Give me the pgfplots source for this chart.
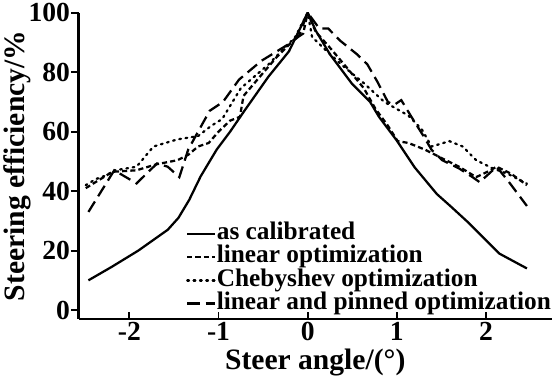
\documentclass[border=0pt]{standalone}
\usepackage{fontspec}
\setmainfont{Liberation Serif}
\usepackage{pgfplots}
\pgfplotsset{compat=1.18}
\begin{document}
\begin{tikzpicture}
\begin{axis}[
  scale only axis,
  width=462bp, height=299bp,
  xmin=-2.57, xmax=2.74, ymin=-3, ymax=100,
  axis lines=left,
  axis line style={line width=2.2bp, -},
  xtick={-2,-1,0,1,2},
  xticklabels={-2,-1,0,1,2},
  ytick={0,20,40,60,80,100},
  yticklabels={0,20,40,60,80,100},
  x tick style={line width=1.8bp, black},
  y tick style={line width=1.8bp, black},
  xtick align=inside,
  ytick align=outside,
  major tick length=7bp,
  tick label style={font=\fontsize{27}{27}\selectfont\bfseries},
  xticklabel style={yshift=0bp},
  yticklabel style={xshift=2bp},
  label style={font=\fontsize{29}{29}\selectfont\bfseries},
  xlabel={Steer angle/(°)},
  ylabel={Steering efficiency/\%},
  xlabel style={yshift=-1bp},
  ylabel style={yshift=-9bp},
  legend cell align=left,
  legend style={at={(1,0.012)}, anchor=south east, draw=none, fill=none,
    inner sep=0pt, row sep=0pt,
    font=\fontsize{24.8}{22}\selectfont\bfseries,
    nodes={inner sep=0.8bp, text height=16bp, text depth=5bp}},
  legend image code/.code={\draw[#1] (0bp,0bp) -- (27bp,0bp);},
  every axis plot/.append style={line width=2.2bp, black},
]
\addplot[solid] coordinates {(-2.46,10) (-2.2,14.5) (-1.9,20) (-1.57,27) (-1.45,31) (-1.33,37) (-1.2,45) (-1.02,54) (-0.87,60) (-0.71,67) (-0.44,78.5) (-0.21,87) (-0.04,97.5) (0,100) (0.09,94) (0.25,86) (0.5,76) (0.7,70) (0.8,65) (1.0,57) (1.2,48) (1.45,39) (1.6,35) (1.8,29.5) (2.15,19) (2.46,14)};
\addlegendentry{as calibrated}
\addplot[dash pattern=on 5bp off 3bp] coordinates {(-2.49,41) (-2.19,46.5) (-1.92,47) (-1.7,49) (-1.46,50.4) (-1.34,52.2) (-1.23,55) (-1.11,56.2) (-1.0,60) (-0.87,63.7) (-0.76,65) (-0.72,72) (-0.55,78) (-0.35,85) (-0.15,91) (-0.05,93) (0,100) (0.09,93.6) (0.245,88.4) (0.44,81.5) (0.63,74.6) (0.76,67.7) (0.9,62) (1.01,56.8) (1.13,56.2) (1.32,53.9) (1.51,51) (1.7,48.2) (1.89,44.7) (2.01,46.4) (2.12,48.2) (2.28,45.9) (2.46,42)};
\addlegendentry{linear optimization}
\addplot[dash pattern=on 1.7bp off 4.5bp, line cap=round] coordinates {(-2.49,42) (-2.38,44) (-2.26,45.3) (-2.16,47) (-1.92,48.2) (-1.73,55) (-1.46,57.4) (-1.23,58.5) (-1.08,62) (-0.96,64.2) (-0.75,74.6) (-0.44,82.6) (-0.14,91.8) (0,100) (0.05,91.8) (0.21,87.2) (0.4,82) (0.63,76.3) (0.86,70) (1.13,65.4) (1.28,60.8) (1.39,55) (1.59,56.8) (1.74,55) (1.89,50.4) (2.08,47.6) (2.24,45.9) (2.46,42.5)};
\addlegendentry{Chebyshev optimization}
\addplot[dash pattern=on 12bp off 6bp] coordinates {(-2.46,33) (-2.17,47) (-1.92,42.6) (-1.69,49.3) (-1.57,48.2) (-1.44,44.7) (-1.34,54) (-1.1,67) (-0.95,70) (-0.77,77.5) (-0.52,83.8) (-0.21,89.5) (-0.1,92) (0,100) (0.13,94.7) (0.23,94.7) (0.36,90.7) (0.55,86.1) (0.67,82.6) (0.78,76.9) (0.9,70) (0.97,69) (1.05,70.6) (1.18,64.2) (1.3,58.5) (1.39,53.9) (1.51,50.4) (1.7,47.6) (1.85,44.7) (1.93,43) (2.12,48.2) (2.26,43) (2.46,35)};
\addlegendentry{linear and pinned optimization}
\end{axis}
\end{tikzpicture}
\end{document}
